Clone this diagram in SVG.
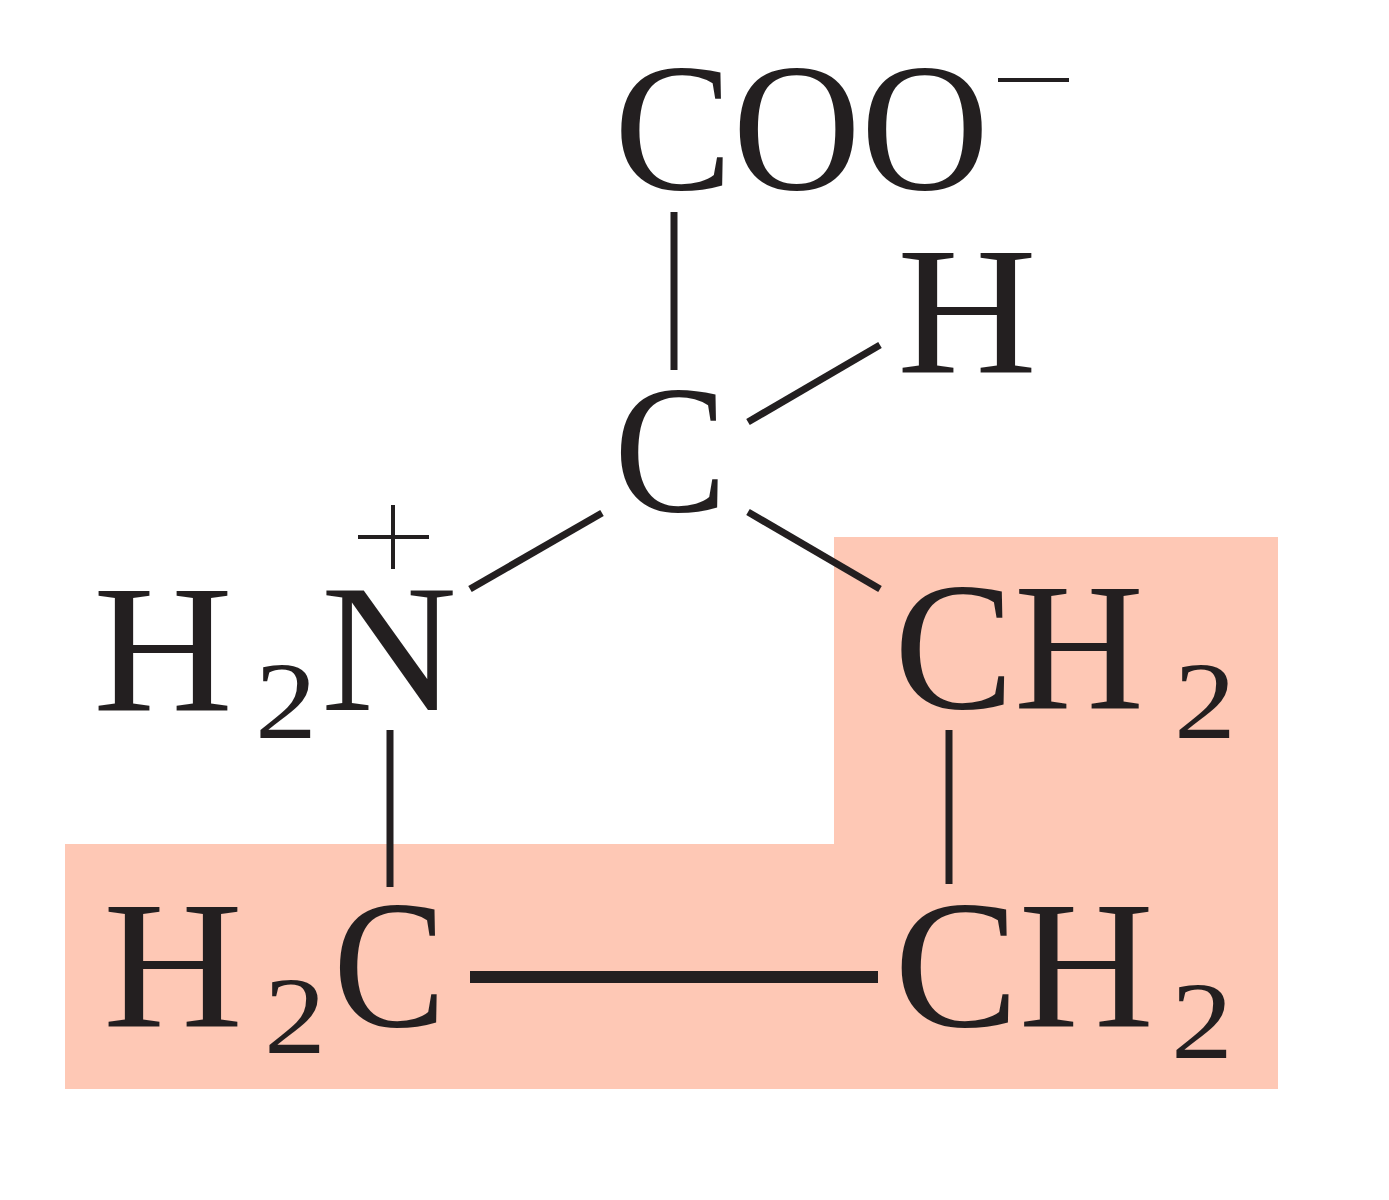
<svg xmlns="http://www.w3.org/2000/svg" width="1389" height="1200" viewBox="0 0 1389 1200">
<style>
.t{font-family:"Liberation Serif","DejaVu Serif",serif;font-size:183px;fill:#231f20}
.s{font-family:"Liberation Serif","DejaVu Serif",serif;font-size:111px;fill:#231f20}
.b{stroke:#231f20;stroke-width:7;fill:none}
</style>
<rect width="1389" height="1200" fill="#fff"/>
<path id="highlight" d="M834 537H1278V1089H65V844H834Z" fill="#fec8b5"/>
<g id="connectors">
<path class="b" d="M674 212V370"/>
<path class="b" d="M748 422L880 345"/>
<path class="b" d="M602 513L470 589"/>
<path class="b" d="M748 512L880 589"/>
<path class="b" d="M390 730V887"/>
<path class="b" d="M949 730V884"/>
<path class="b" style="stroke-width:12" d="M470 977H878"/>
</g>
<g id="coo"><text class="t" x="614" y="189" textLength="375" lengthAdjust="spacingAndGlyphs">COO</text>
<path d="M998 80H1069" stroke="#231f20" stroke-width="4"/></g>
<g id="h"><text class="t" x="897" y="372" textLength="140" lengthAdjust="spacingAndGlyphs">H</text></g>
<g id="c"><text class="t" x="614" y="511" textLength="113" lengthAdjust="spacingAndGlyphs">C</text></g>
<g id="nh2"><text class="t" x="93" y="710" textLength="140" lengthAdjust="spacingAndGlyphs">H</text>
<text class="s" x="255" y="738" textLength="62" lengthAdjust="spacingAndGlyphs">2</text>
<text class="t" x="321" y="710" textLength="136" lengthAdjust="spacingAndGlyphs">N</text>
<path d="M358 537H429M393 505V569" stroke="#231f20" stroke-width="4" fill="none"/></g>
<g id="ch2a"><text class="t" x="894" y="708" textLength="250" lengthAdjust="spacingAndGlyphs">CH</text>
<text class="s" x="1174" y="738" textLength="62" lengthAdjust="spacingAndGlyphs">2</text></g>
<g id="h2c"><text class="t" x="103" y="1026" textLength="140" lengthAdjust="spacingAndGlyphs">H</text>
<text class="s" x="264" y="1053" textLength="62" lengthAdjust="spacingAndGlyphs">2</text>
<text class="t" x="333" y="1026" textLength="113" lengthAdjust="spacingAndGlyphs">C</text></g>
<g id="ch2b"><text class="t" x="894" y="1026" textLength="260" lengthAdjust="spacingAndGlyphs">CH</text>
<text class="s" x="1171" y="1058" textLength="62" lengthAdjust="spacingAndGlyphs">2</text></g>
</svg>
